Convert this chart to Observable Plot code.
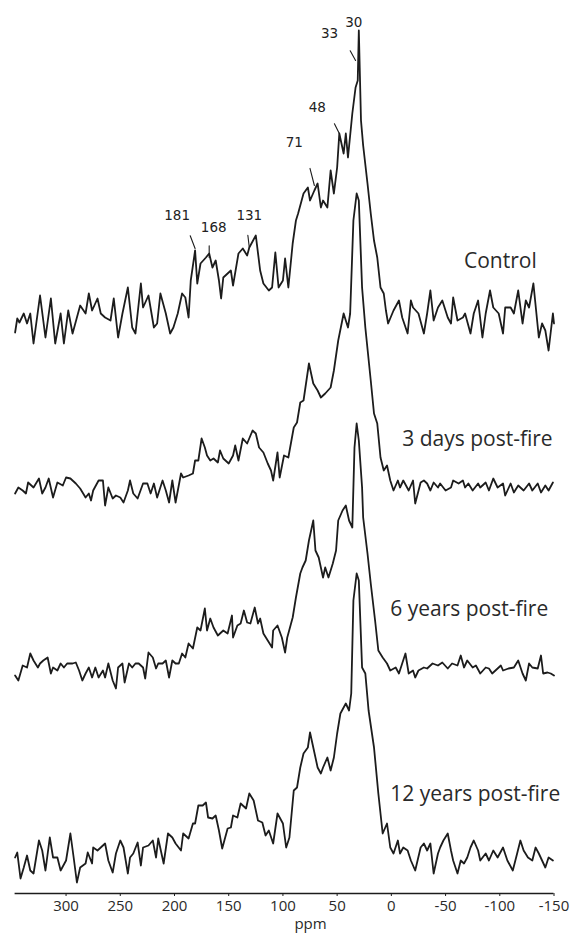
<!DOCTYPE html>
<html>
<head>
<meta charset="utf-8">
<script src="https://cdn.jsdelivr.net/npm/d3@7"></script>
<script src="https://cdn.jsdelivr.net/npm/@observablehq/plot@0.6"></script>
<style>
  html, body { margin: 0; padding: 0; background: #fff; }
  #chart svg { display: block; }
</style>
</head>
<body>
<div id="chart"></div>
<script>
// 13C CPMAS NMR spectra: [chemical shift (ppm), intensity (a.u.)]
const control = [
  [347,-12],[345,2],[343,-2],[339,7],[336,-3],[333,7],[330,-23],[324,25],[319,-17],[314,22],
  [310,-23],[305,7],[302,-23],[298,10],[294,-13],[289,7],[287,15],[282,7],[279,27],[276,10],
  [271,22],[268,7],[264,3],[259,0],[256,22],[252,-17],[248,7],[243,33],[239,-7],[236,-13],
  [231,37],[229,13],[224,25],[219,-7],[216,-3],[213,27],[208,7],[204,-13],[201,-7],[197,7],
  [193,27],[190,23],[187,3],[185,40],[181,70],[179,37],[176,57],[171,63],[168,67],[165,53],
  [162,60],[159,40],[157,22],[155,43],[151,47],[148,50],[146,35],[141,67],[137,72],[133,65],
  [131,73],[125,85],[121,50],[118,37],[113,30],[110,33],[107,68],[104,33],[100,40],[98,62],
  [95,33],[91,77],[88,100],[86,107],[81,127],[77,133],[75,120],[71,130],[68,137],[65,113],
  [63,120],[59,113],[56,150],[53,127],[50,153],[48,187],[44,167],[42,187],[40,163],[36,207],
  [33,233],[31,240],[30,290],[28,200],[26,175],[22,137],[19,107],[16,80],[13,63],[10,33],
  [7,27],[5,10],[3,-3],[-2,10],[-7,20],[-10,3],[-15,-13],[-18,20],[-20,13],[-25,7],
  [-30,-13],[-33,7],[-36,30],[-39,0],[-43,13],[-47,20],[-52,3],[-55,-3],[-57,23],[-61,0],
  [-66,3],[-68,7],[-73,-13],[-76,7],[-80,20],[-84,-17],[-87,7],[-91,30],[-94,13],[-99,7],
  [-103,-13],[-105,13],[-110,13],[-113,7],[-117,30],[-121,-3],[-124,20],[-127,13],[-131,37],[-136,-17],
  [-139,-3],[-142,-10],[-145,-30],[-149,7],[-150,-3]
];

const days3 = [
  [347,-6],[344,0],[340,-3],[337,-6],[335,5],[330,0],[325,9],[322,-6],[319,0],[316,9],
  [312,-10],[308,5],[303,2],[300,10],[296,9],[291,4],[287,-1],[282,-10],[279,-6],[277,-13],
  [275,-3],[270,7],[266,7],[264,-18],[261,0],[257,-11],[254,-8],[250,-10],[247,-15],[243,-3],
  [241,7],[238,-6],[234,-11],[229,4],[225,4],[222,-6],[219,4],[216,-10],[211,7],[208,-3],
  [205,-15],[202,7],[199,-15],[194,14],[192,10],[187,12],[183,14],[181,27],[178,27],[175,49],
  [172,40],[170,32],[167,27],[164,29],[160,25],[158,37],[155,29],[150,24],[146,32],[144,42],
  [141,27],[137,49],[133,44],[128,57],[125,54],[122,40],[118,35],[114,24],[111,17],[109,7],
  [105,35],[103,10],[99,32],[95,30],[90,60],[87,65],[84,85],[81,87],[76,124],[72,104],
  [68,97],[65,90],[61,94],[56,100],[53,117],[49,147],[44,174],[40,160],[38,174],[35,267],
  [32,294],[30,287],[27,200],[24,160],[19,107],[16,74],[13,64],[10,30],[7,17],[4,22],
  [1,7],[-2,-3],[-6,7],[-8,0],[-11,7],[-16,-3],[-20,7],[-22,-16],[-27,5],[-30,7],
  [-33,4],[-36,-3],[-39,5],[-43,0],[-45,4],[-50,-3],[-55,0],[-57,7],[-62,4],[-66,7],
  [-68,0],[-71,4],[-75,-3],[-80,4],[-82,0],[-87,5],[-90,-3],[-94,9],[-98,0],[-103,4],
  [-105,-8],[-110,4],[-113,-5],[-117,2],[-122,-3],[-127,4],[-130,-3],[-135,4],[-138,-5],[-142,2],
  [-145,-3],[-149,5]
];

const years6 = [
  [347,-7],[344,-12],[340,3],[336,1],[333,15],[330,8],[326,1],[324,5],[321,8],[317,11],
  [314,-5],[312,1],[308,-2],[305,5],[302,1],[299,5],[294,5],[291,6],[288,-2],[285,-12],
  [282,-5],[279,1],[276,-9],[273,1],[270,-9],[266,-2],[264,-9],[261,5],[257,-12],[254,-20],
  [252,1],[248,5],[246,-14],[242,5],[239,1],[236,5],[233,5],[229,1],[227,-10],[224,16],
  [220,11],[217,0],[215,5],[211,5],[208,8],[205,-9],[202,8],[199,5],[196,5],[193,15],
  [190,11],[187,25],[183,20],[179,41],[176,38],[172,60],[170,38],[167,50],[164,41],[160,33],
  [158,35],[155,38],[151,35],[147,53],[146,31],[142,43],[139,45],[136,58],[133,46],[130,45],
  [126,61],[123,45],[121,50],[118,35],[114,28],[110,21],[109,38],[105,43],[101,31],[98,16],
  [96,31],[91,51],[88,71],[84,95],[82,101],[79,108],[76,128],[72,148],[70,118],[67,111],
  [63,91],[61,101],[58,91],[54,105],[51,118],[49,148],[45,158],[42,163],[39,148],[36,141],
  [34,221],[32,245],[30,228],[27,181],[26,151],[22,115],[19,85],[15,48],[12,18],[8,11],
  [4,5],[1,-2],[-4,1],[-7,-5],[-10,5],[-13,15],[-16,-5],[-20,-2],[-22,-9],[-25,-2],
  [-30,1],[-33,0],[-38,5],[-43,3],[-47,6],[-52,0],[-56,5],[-61,3],[-64,13],[-67,1],
  [-70,8],[-75,1],[-78,3],[-82,-5],[-87,1],[-90,0],[-93,-5],[-98,0],[-101,3],[-103,-2],
  [-108,0],[-113,1],[-117,8],[-121,-5],[-124,-12],[-127,5],[-130,1],[-135,0],[-138,13],[-140,-5],
  [-144,-4],[-147,-5],[-150,-7]
];

const years12 = [
  [347,1],[345,6],[342,-20],[339,-9],[336,3],[333,-12],[330,-15],[325,18],[322,8],[319,-12],
  [315,21],[312,1],[308,1],[305,-12],[300,-2],[296,25],[293,1],[290,-24],[287,-9],[282,-5],
  [280,6],[276,-5],[275,11],[271,8],[268,11],[264,15],[261,-2],[257,-14],[254,5],[250,18],
  [247,11],[243,-15],[241,1],[238,5],[234,16],[231,-7],[229,11],[224,13],[220,18],[217,1],
  [215,20],[210,-5],[206,25],[202,21],[199,15],[194,8],[192,25],[187,20],[183,35],[181,35],
  [178,53],[174,53],[171,56],[169,41],[165,40],[162,43],[159,28],[156,10],[151,30],[148,31],
  [146,43],[142,41],[139,55],[134,50],[131,65],[127,58],[123,38],[119,36],[116,23],[113,28],
  [109,15],[105,45],[100,35],[97,11],[94,21],[90,68],[87,71],[84,91],[81,105],[77,111],
  [75,126],[72,111],[68,91],[65,85],[63,91],[59,101],[56,88],[53,101],[50,125],[47,145],
  [42,155],[39,148],[37,165],[35,258],[32,285],[30,278],[27,191],[24,185],[21,148],[16,111],
  [12,65],[8,25],[4,35],[1,11],[-2,5],[-6,18],[-8,5],[-11,11],[-15,8],[-18,-2],
  [-22,-12],[-27,11],[-30,15],[-33,8],[-36,15],[-39,-15],[-43,5],[-45,11],[-48,18],[-52,25],
  [-55,8],[-57,-2],[-61,-15],[-64,-2],[-67,-5],[-70,1],[-73,11],[-76,18],[-80,8],[-82,-2],
  [-87,5],[-90,-2],[-94,8],[-98,1],[-103,11],[-107,-2],[-112,-12],[-116,5],[-119,18],[-122,8],
  [-126,1],[-130,-2],[-133,11],[-136,5],[-139,-2],[-142,-9],[-145,1],[-149,-2]
];

// stacking: vertical offset of each spectrum's baseline (a.u.)
const sampleNames = ["Control", "3 days post-fire", "6 years post-fire", "12 years post-fire"];
const spectra = [control, days3, years6, years12];
const offsets = [573, 406, 225, 35];

// assigned peaks on the control spectrum (ppm) and the height their callouts point to
const peakPpm = [181, 168, 131, 71, 48, 33, 30];
const peakTip = [72, 63, 73, 135, 187, 260, 290];

const xTicks = [300, 250, 200, 150, 100, 50, 0, -50, -100, -150];

// ---- build the plotted table ----
const rows = spectra.flatMap((s, i) =>
  s.map(([ppm, v]) => ({sample: sampleNames[i], ppm, y: offsets[i] + v}))
);

// callout geometry in pixels: leader [dx, dy], label offset [dx, dy]
const calloutLayout = [
  {leader: [-10, -26], label: [-18, -33]},
  {leader: [0, -24],   label: [4.5, -30]},
  {leader: [-3, -25],  label: [0, -32]},
  {leader: [-9, -35],  label: [-20, -43]},
  {leader: [-10, -20], label: [-22, -26]},
  {leader: [-11, -20], label: [-26, -27]},
  {leader: null,       label: [-5, -8]}
];
const callouts = peakPpm.map((ppm, i) => {
  const lay = calloutLayout[i];
  const [dx, dy] = lay.leader || [0, 0];
  return {
    ppm, y: offsets[0] + peakTip[i],
    length: Math.hypot(dx, dy),
    rotate: Math.atan2(dx, -dy) * 180 / Math.PI,
    lay
  };
});

// sample name placement: [ppm where the text starts, height above the baseline]
const namePlacement = [[-67, 59], [-10, 48], [1, 59], [1, 64]];
const names = sampleNames.map((name, i) => ({
  name, ppm: namePlacement[i][0], y: offsets[i] + namePlacement[i][1]
}));

const ink = "#1c1c1c";
const hyphenFormat = d => (d < 0 ? "-" + Math.abs(d) : String(d));

const chart = Plot.plot({
  width: 571,
  height: 938,
  marginTop: 0,
  marginRight: 17.5,
  marginBottom: 45,
  marginLeft: 14.6,
  x: {domain: [347, -150], axis: null},
  y: {domain: [0, 893], axis: null},
  style: {fontFamily: "'Open Sans', sans-serif", background: "#fff", color: ink},
  marks: [
    Plot.line(rows, {x: "ppm", y: "y", z: "sample", stroke: ink, strokeWidth: 1.8, strokeLinejoin: "round"}),
    Plot.ruleY([0], {stroke: ink, strokeWidth: 1.4}),
    Plot.axisX({
      ticks: xTicks, tickFormat: hyphenFormat, tickSize: 3, tickPadding: 4,
      fontSize: 15, label: null, stroke: ink, fill: "#2a2a2a"
    }),
    Plot.text(["ppm"], {frameAnchor: "bottom", dx: 26, dy: 35, fontSize: 15, fill: "#2a2a2a"}),
    Plot.vector(callouts.filter(d => d.length > 0), {
      x: "ppm", y: "y", length: "length", rotate: "rotate",
      anchor: "start", shape: "arrow", r: 0, stroke: ink, strokeWidth: 1.1
    }),
    ...callouts.map(c => Plot.text([c], {
      x: "ppm", y: "y", text: d => String(d.ppm),
      dx: c.lay.label[0], dy: c.lay.label[1],
      fontFamily: "'DejaVu Sans', sans-serif", fontSize: 13.5, fill: "#222"
    })),
    Plot.text(names, {
      x: "ppm", y: "y", text: "name", textAnchor: "start",
      fontSize: 21, fill: "#2a2a2a"
    })
  ]
});

document.getElementById("chart").appendChild(chart);
</script>
</body>
</html>
